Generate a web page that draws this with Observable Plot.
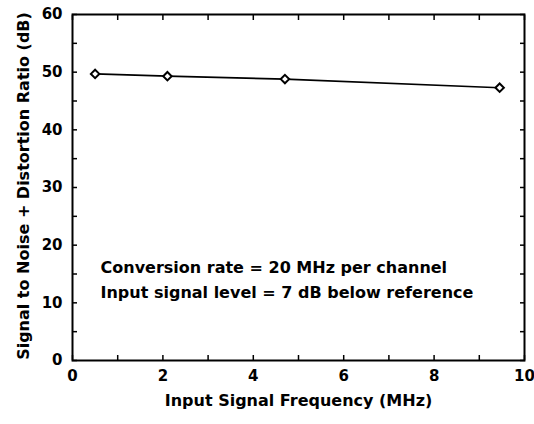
<!DOCTYPE html>
<html>
<head>
<meta charset="utf-8">
<script src="https://cdn.jsdelivr.net/npm/d3@7"></script>
<script src="https://cdn.jsdelivr.net/npm/@observablehq/plot@0.6"></script>
<style>
  html, body { margin: 0; padding: 0; background: #fff; }
  #chart { width: 534px; height: 424px; }
</style>
</head>
<body>
<div id="chart"></div>
<script>
const freq = [0.5, 2.1, 4.7, 9.45];
const sinad = [49.7, 49.3, 48.8, 47.3];
const xMajor = [0, 2, 4, 6, 8, 10];
const xMinor = [0, 1, 2, 3, 4, 5, 6, 7, 8, 9, 10];
const yMajor = [0, 10, 20, 30, 40, 50, 60];
const yMinor = [0, 5, 10, 15, 20, 25, 30, 35, 40, 45, 50, 55, 60];
const notes = ["Conversion rate = 20 MHz per channel", "Input signal level = 7 dB below reference"];
const noteX = [0.62, 0.62];
const noteY = [16.0, 11.7];
const xTitle = "Input Signal Frequency (MHz)";
const yTitle = "Signal to Noise + Distortion Ratio (dB)";

const data = freq.map((f, i) => ({f, s: sinad[i]}));
const noteData = notes.map((t, i) => ({t, x: noteX[i], y: noteY[i]}));

const font = "'DejaVu Sans', 'Liberation Sans', Arial, sans-serif";
const chart = Plot.plot({
  width: 534,
  height: 424,
  marginLeft: 72,
  marginRight: 10,
  marginTop: 14,
  marginBottom: 64,
  style: {fontFamily: font, background: "#fff", color: "#000"},
  x: {domain: [0, 10], axis: null},
  y: {domain: [0, 60], axis: null},
  marks: [
    Plot.axisX(xMinor, {anchor: "bottom", tickSize: -5, text: null, strokeWidth: 1.5}),
    Plot.axisX(xMinor, {anchor: "top", tickSize: -5, text: null, strokeWidth: 1.5}),
    Plot.axisY(yMinor, {anchor: "left", tickSize: -5, text: null, strokeWidth: 1.5}),
    Plot.axisY(yMinor, {anchor: "right", tickSize: -5, text: null, strokeWidth: 1.5}),
    Plot.axisX(xMajor, {anchor: "bottom", tickSize: 0, tickPadding: 10, fontSize: 15, fontWeight: "bold", label: null, tickFormat: d => d}),
    Plot.axisY(yMajor, {anchor: "left", tickSize: 0, tickPadding: 10, fontSize: 15, fontWeight: "bold", label: null, tickFormat: d => d}),
    Plot.frame({stroke: "#000", strokeWidth: 2}),
    Plot.line(data, {x: "f", y: "s", stroke: "#000", strokeWidth: 1.7}),
    Plot.dot(data, {x: "f", y: "s", symbol: "diamond2", r: 3.8, fill: "#fff", stroke: "#000", strokeWidth: 2}),
    Plot.text(noteData, {x: "x", y: "y", text: "t", textAnchor: "start", fontSize: 16, fontWeight: "bold", fill: "#000"}),
    Plot.text([xTitle], {frameAnchor: "bottom", dy: 45, dx: 0, text: d => d, fontSize: 16, fontWeight: "bold", fill: "#000"}),
    Plot.text([yTitle], {frameAnchor: "left", dx: -49, dy: -1.5, rotate: -90, textAnchor: "middle", text: d => d, fontSize: 16, fontWeight: "bold", fill: "#000"})
  ]
});
document.getElementById("chart").appendChild(chart);
</script>
</body>
</html>
